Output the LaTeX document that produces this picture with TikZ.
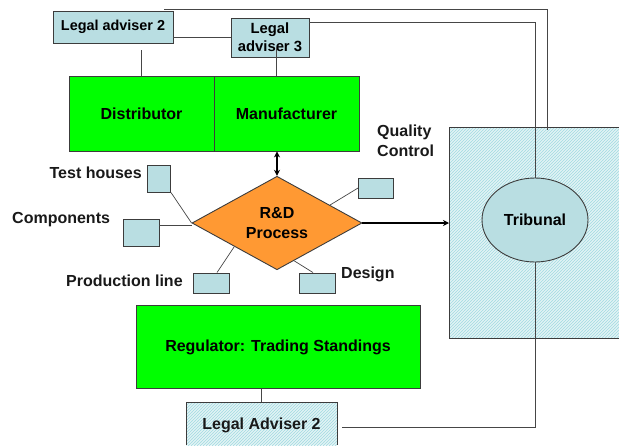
\documentclass[tikz,border=0pt]{standalone}
\usepackage{fontspec}
\setmainfont{Liberation Sans}
\usetikzlibrary{shapes.geometric,patterns,arrows.meta,calc}
\definecolor{boxgreen}{RGB}{0,255,0}
\definecolor{paleblue}{RGB}{185,222,226}
\definecolor{hatchbg}{RGB}{236,247,248}
\definecolor{hatchline}{RGB}{172,222,228}
\definecolor{rdorange}{RGB}{255,153,51}
\definecolor{edge}{RGB}{60,60,60}
\definecolor{wire}{RGB}{70,70,70}
% fine diagonal hatching
\pgfdeclarepatternformonly{fine ne lines}{\pgfqpoint{-1pt}{-1pt}}{\pgfqpoint{4pt}{4pt}}{\pgfqpoint{3pt}{3pt}}{%
  \pgfsetlinewidth{0.9pt}%
  \pgfpathmoveto{\pgfqpoint{0pt}{0pt}}%
  \pgfpathlineto{\pgfqpoint{3.1pt}{3.1pt}}%
  \pgfusepath{stroke}}
\tikzset{
  basebox/.style={draw=edge, line width=0.9pt, inner sep=0pt, align=center},
  greenbox/.style={basebox, fill=boxgreen},
  bluebox/.style={basebox, fill=paleblue},
  smalltext/.style={font=\bfseries\fontsize{14.4}{17}\selectfont},
  hatched/.style={fill=hatchbg, postaction={pattern=fine ne lines, pattern color=hatchline}},
  conn/.style={draw=wire, line width=0.7pt},
  heavy/.style={draw=black, line width=1.8pt, -{Stealth[length=6pt,width=6pt]}},
  label/.style={inner sep=0pt, text=black!90}
}
\begin{document}
\begin{tikzpicture}[x=1pt,y=-1pt,font=\bfseries\fontsize{16}{20}\selectfont]
\useasboundingbox (0,0) rectangle (619,445);

% hatched court area on the right
\coordinate (courtNW) at (449,127);
\coordinate (courtSE) at (619,338);
\path[hatched] (courtNW) rectangle (courtSE);
\draw[draw=edge, line width=0.9pt] (courtNW -| courtSE) -- (courtNW) -- (courtNW |- courtSE) -- (courtSE);

% hatched legal adviser box at the bottom
\coordinate (lbNW) at (186,402);
\coordinate (lbSE) at (337,445);
\path[hatched] (lbNW) rectangle (lbSE);
\draw[draw=edge, line width=0.9pt] (lbNW |- lbSE) -- (lbNW) -- (lbNW -| lbSE) -- (lbSE);
\node[label] (la2b) at (261.5,425) {Legal Adviser 2};

% top boxes
\node[bluebox, smalltext, minimum width=120pt, minimum height=32pt] (la2) at (113,27) {Legal adviser 2};
\node[bluebox, minimum width=78pt, minimum height=39pt, font=\bfseries\fontsize{14.8}{18}\selectfont] (la3) at (270,37.5) {Legal\\adviser 3};
\node[greenbox, minimum width=145pt, minimum height=75pt] (dist) at (141.5,113.5) {Distributor};
\node[greenbox, minimum width=145pt, minimum height=75pt] (man) at (286.5,113.5) {Manufacturer};

% R&D diamond
\node[draw=edge, line width=0.9pt, fill=rdorange, diamond, inner sep=0pt,
      minimum width=170pt, minimum height=88pt, align=center,
      font=\bfseries\fontsize{16}{20}\selectfont] (rd) at (277,223) {R\&D\\Process};

% small satellite boxes
\node[bluebox, minimum width=23pt, minimum height=27pt] (test) at (159,178.5) {};
\node[bluebox, minimum width=36pt, minimum height=27pt] (comp) at (141,232.5) {};
\node[bluebox, minimum width=36pt, minimum height=20pt] (prod) at (211,283) {};
\node[bluebox, minimum width=36pt, minimum height=20pt] (design) at (317,283) {};
\node[bluebox, minimum width=35pt, minimum height=20pt] (qc) at (376,188) {};

% labels of the satellites
\node[label, anchor=east] (testlbl) at (142,173) {Test houses};
\node[label, anchor=west] (complbl) at (12,220) {Components};
\node[label, anchor=west] (prodlbl) at (66,281) {Production line};
\node[label, anchor=west] (designlbl) at (341,274) {Design};
\node[label, anchor=north west, align=left] (qclbl) at (377,125) {Quality\\Control};

% regulator
\node[greenbox, minimum width=284pt, minimum height=83pt] (reg) at (278,347) {Regulator: Trading Standings};

% tribunal
\node[draw=edge, line width=0.9pt, fill=paleblue, ellipse, inner sep=0pt,
      minimum width=106pt, minimum height=84pt] (trib) at (535,220) {Tribunal};

% connectors
\coordinate (topstart) at (164,9);
\draw[conn] (topstart) -| (547,130);
\draw[conn] ([yshift=-4.5pt]la3.north east) -| (trib.north);
\draw[conn] ([yshift=-10pt]la2.east) -- ([yshift=-10pt]la2.east -| la3.west);
\draw[conn] (dist.north) -- ++(0,-26);
\draw[conn] ([xshift=-10.5pt]man.north) -- ++(0,-29);
\draw[conn] (test.south east) -- (rd.west);
\draw[conn] ([yshift=7.5pt]comp.east) -- ([yshift=7.5pt]comp.east -| rd.west);
\draw[conn] ([xshift=6pt]prod.north) -- ($(rd.west)!0.5!(rd.south)$);
\draw[conn] ([xshift=-4pt]design.north) -- ($(rd.south)!0.2!(rd.east)$);
\draw[conn] (qc.west) -- ($(rd.north)!0.62!(rd.east)$);
\draw[conn] (la2b.north |- lbNW) -- (la2b.north |- reg.south);
\coordinate (bottomend) at (342,427);
\draw[conn] (trib.south) |- (bottomend);

% arrows
\draw[heavy, {Stealth[length=6pt,width=6pt]}-{Stealth[length=6pt,width=6pt]}] (rd.north) -- (rd.north |- man.south);
\draw[heavy] (rd.east) -- (rd.east -| courtNW);
\end{tikzpicture}
\end{document}
